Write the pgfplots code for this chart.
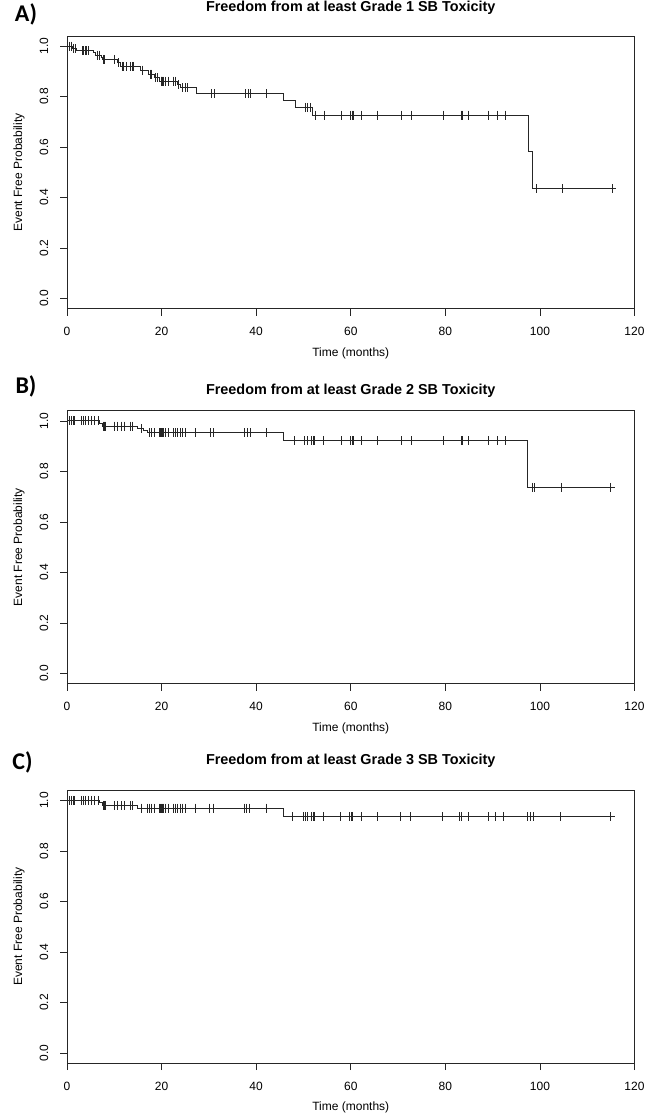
\documentclass[border=0pt]{standalone}
\usepackage{fontspec}
\setmainfont{Liberation Sans}
\newfontfamily\panelfont{Carlito}
\usepackage{pgfplots}
\pgfplotsset{compat=1.18}

\definecolor{ink}{HTML}{262626}

\pgfplotsset{
  km/.style={
    scale only axis, width=567.5pt, height=272.7pt,
    anchor=north west,
    xmin=0, xmax=120, ymin=-0.04, ymax=1.04,
    xtick={0,20,40,60,80,100,120},
    ytick={0,0.2,0.4,0.6,0.8,1},
    tick pos=left, tick align=outside,
    major tick length=7pt,
    axis line style={ink, line width=0.8pt},
    tick style={ink, line width=0.8pt},
    font=\fontsize{12}{14}\selectfont,
    /pgf/number format/assume math mode=true,
    xticklabel style={anchor=center, yshift=-16pt},
    yticklabel style={rotate=90, anchor=center, yshift=16pt,
      /pgf/number format/.cd, fixed, fixed zerofill, precision=1},
    xlabel={Time (months)},
    ylabel={Event Free Probability},
    xlabel style={at={(axis description cs:0.5,0)}, anchor=center, yshift=-44.5pt},
    ylabel style={at={(axis description cs:0,0.5)}, anchor=center, yshift=48pt},
    title style={font=\fontsize{14.4}{17}\selectfont\bfseries, at={(axis description cs:0.5,1)}, anchor=center},
  },
  curve/.style={const plot, ink, line width=0.9pt, mark=none},
  cens/.style={only marks, mark=|, mark size=4.5pt, mark options={ink, line width=0.8pt}},
}

\begin{document}
\begin{tikzpicture}
\path[use as bounding box] (0,0) rectangle (650pt,-1116pt);

% ---------- A) grade 1 ----------
\begin{axis}[km, at={(67pt,-36pt)},
  title={Freedom from at least Grade 1 SB Toxicity}, title style={yshift=22pt}]
\addplot[curve] coordinates {
  (0,1.0) (1.1,0.990) (1.9,0.982) (5.5,0.973) (6.1,0.964) (7.2,0.955) (7.6,0.947)
  (10.6,0.934) (11.4,0.920) (15.5,0.905) (17.2,0.889) (18.4,0.875) (19.6,0.861)
  (23.3,0.848) (23.9,0.836) (27.35,0.812) (45.8,0.786) (48.4,0.757) (52.0,0.727)
  (97.5,0.582) (98.5,0.436) (116,0.436)
};
\addplot[cens] coordinates {
  (0.5,1.0) (0.85,1.0)
  (1.4,0.990) (1.7,0.990)
  (3.2,0.982) (3.5,0.982) (3.85,0.982) (4.2,0.982) (4.55,0.982)
  (6.4,0.964) (6.8,0.964)
  (7.8,0.947) (8.0,0.947) (10.0,0.947)
  (10.9,0.934)
  (11.7,0.920) (12.0,0.920) (12.5,0.920) (13.5,0.920) (13.8,0.920) (14.1,0.920)
  (15.9,0.905)
  (17.6,0.889) (17.9,0.889)
  (18.7,0.875) (19.1,0.875)
  (19.9,0.861) (20.05,0.861) (20.2,0.861) (20.35,0.861) (20.8,0.861) (21.4,0.861) (22.5,0.861) (22.9,0.861)
  (23.6,0.848)
  (24.5,0.836) (24.95,0.836) (25.4,0.836)
  (30.5,0.812) (31.1,0.812) (37.7,0.812) (38.3,0.812) (38.8,0.812) (42.1,0.812)
  (50.4,0.757) (50.9,0.757) (51.4,0.757)
  (52.5,0.727) (54.4,0.727) (58.0,0.727) (60.0,0.727) (60.25,0.727) (60.5,0.727)
  (62.2,0.727) (65.7,0.727) (70.8,0.727) (72.9,0.727) (79.5,0.727) (83.3,0.727)
  (83.6,0.727) (84.9,0.727) (89.2,0.727) (91.1,0.727) (92.6,0.727)
  (99.2,0.436) (104.7,0.436) (115.3,0.436)
};
\end{axis}
\node[font=\panelfont\fontsize{24}{28}\selectfont\bfseries] at (26pt,-14pt) {A)};

% ---------- B) grade 2 ----------
\begin{axis}[km, at={(67pt,-410.8pt)},
  title={Freedom from at least Grade 2 SB Toxicity}, title style={yshift=14pt}]
\addplot[curve] coordinates {
  (0,1.0) (6.9,0.989) (7.4,0.979) (15.0,0.969) (16.1,0.961) (17.0,0.953)
  (45.8,0.921) (97.4,0.737) (115.8,0.737)
};
\addplot[cens] coordinates {
  (0.6,1.0) (0.95,1.0) (1.3,1.0) (1.65,1.0) (3.0,1.0) (3.45,1.0) (3.95,1.0)
  (4.45,1.0) (5.1,1.0) (5.8,1.0) (6.7,1.0)
  (7.6,0.979) (7.9,0.979) (8.2,0.979) (10.0,0.979) (10.7,0.979) (11.4,0.979)
  (12.1,0.979) (13.5,0.979) (13.9,0.979)
  (15.7,0.969)
  (17.5,0.953) (17.9,0.953) (18.4,0.953) (19.5,0.953) (19.7,0.953) (19.9,0.953)
  (20.1,0.953) (20.4,0.953) (20.9,0.953) (21.4,0.953) (22.5,0.953) (22.9,0.953)
  (23.4,0.953) (23.9,0.953) (24.5,0.953) (25.1,0.953) (27.2,0.953) (30.3,0.953)
  (30.9,0.953) (37.6,0.953) (38.2,0.953) (38.7,0.953) (42.1,0.953)
  (48.1,0.921) (50.2,0.921) (50.9,0.921) (51.6,0.921) (52.1,0.921) (52.3,0.921)
  (54.2,0.921) (58.0,0.921) (60.0,0.921) (60.25,0.921) (60.5,0.921) (62.2,0.921)
  (65.7,0.921) (70.8,0.921) (72.9,0.921) (79.5,0.921) (83.3,0.921) (83.6,0.921)
  (84.9,0.921) (89.2,0.921) (91.1,0.921) (92.6,0.921)
  (98.4,0.737) (98.9,0.737) (104.5,0.737) (115.0,0.737)
};
\end{axis}
\node[font=\panelfont\fontsize{24}{28}\selectfont\bfseries] at (26pt,-386pt) {B)};

% ---------- C) grade 3 ----------
\begin{axis}[km, at={(67pt,-790.3pt)},
  title={Freedom from at least Grade 3 SB Toxicity}, title style={yshift=24pt}]
\addplot[curve] coordinates {
  (0,1.0) (6.9,0.990) (7.5,0.980) (15.0,0.969) (45.7,0.935) (115.8,0.935)
};
\addplot[cens] coordinates {
  (0.6,1.0) (0.95,1.0) (1.3,1.0) (1.65,1.0) (3.0,1.0) (3.45,1.0) (3.95,1.0)
  (4.45,1.0) (5.1,1.0) (5.8,1.0) (6.7,1.0)
  (7.6,0.980) (7.9,0.980) (8.2,0.980) (10.0,0.980) (10.7,0.980) (11.4,0.980)
  (12.1,0.980) (13.5,0.980) (13.9,0.980)
  (15.8,0.969) (16.9,0.969) (17.4,0.969) (17.9,0.969) (18.4,0.969) (19.5,0.969)
  (19.7,0.969) (19.9,0.969) (20.1,0.969) (20.4,0.969) (20.9,0.969) (21.4,0.969)
  (22.5,0.969) (22.9,0.969) (23.4,0.969) (23.9,0.969) (24.5,0.969) (25.1,0.969)
  (27.1,0.969) (30.2,0.969) (30.9,0.969) (37.5,0.969) (38.0,0.969) (38.5,0.969)
  (42.1,0.969)
  (47.7,0.935) (50.0,0.935) (50.4,0.935) (50.9,0.935) (51.6,0.935) (52.1,0.935)
  (52.3,0.935) (54.2,0.935) (57.9,0.935) (59.8,0.935) (60.1,0.935) (60.4,0.935)
  (62.2,0.935) (65.7,0.935) (70.6,0.935) (72.7,0.935) (79.4,0.935) (83.0,0.935)
  (83.4,0.935) (84.8,0.935) (89.0,0.935) (90.6,0.935) (92.2,0.935) (97.3,0.935)
  (98.0,0.935) (98.7,0.935) (104.4,0.935) (114.9,0.935)
};
\end{axis}
\node[font=\panelfont\fontsize{24}{28}\selectfont\bfseries] at (22.5pt,-762pt) {C)};
\end{tikzpicture}
\end{document}
